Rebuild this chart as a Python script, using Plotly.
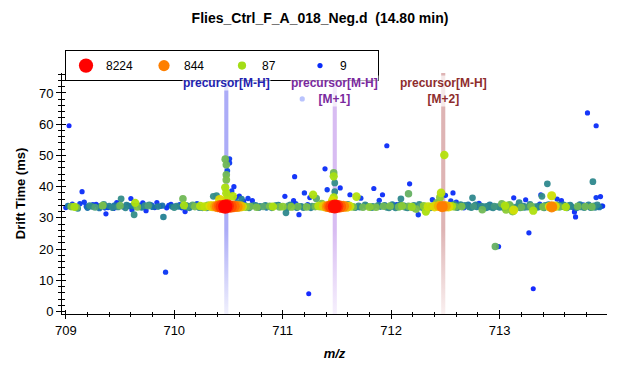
import numpy as np
import plotly.graph_objects as go
from plotly.colors import sample_colorscale

# ---------------- data ----------------
mz = [
    709.00, 709.03, 709.05, 709.08, 709.10, 709.13, 709.15, 709.17, 709.19, 709.22, 709.25, 709.27,
    709.30, 709.32, 709.34, 709.36, 709.37, 709.39, 709.43, 709.45, 709.47, 709.50, 709.51,
    709.53, 709.56, 709.60, 709.61, 709.63, 709.64, 709.66, 709.68, 709.71, 709.74, 709.76, 709.77,
    709.80, 709.82, 709.84, 709.87, 709.90, 709.92, 709.93, 709.95, 709.98,
    710.02, 710.05, 710.08, 710.09, 710.10, 710.12, 710.14, 710.17, 710.19, 710.21, 710.24, 710.26,
    710.28, 710.31, 710.33, 710.35, 710.36, 710.38, 710.40, 710.42, 710.44, 710.47, 710.49,
    710.42, 710.48, 710.48, 710.47, 710.48, 710.48, 710.49, 710.48, 710.47, 710.51, 710.51, 710.39,
    710.53, 710.55, 710.54, 710.57, 710.60, 710.62, 710.64, 710.68, 710.72,
    710.52, 710.55, 710.58, 710.61, 710.63, 710.66, 710.70, 710.73, 710.76, 710.79, 710.82, 710.85,
    710.88, 710.91, 710.94, 710.97,
    711.00, 711.02, 711.03, 711.05, 711.08, 711.11, 711.10, 711.12, 711.14, 711.15, 711.17, 711.18,
    711.20, 711.22, 711.24, 711.25, 711.27, 711.28, 711.30, 711.31, 711.33, 711.35, 711.38, 711.39,
    711.41, 711.41, 711.43, 711.45, 711.48, 711.50,
    711.47, 711.47, 711.48, 711.48, 711.47, 711.46,
    711.53, 711.53, 711.56, 711.59, 711.62, 711.62, 711.65, 711.68, 711.70, 711.72, 711.74, 711.77,
    711.80, 711.84, 711.83, 711.86, 711.89, 711.90, 711.92, 711.93, 711.96, 711.96, 711.99,
    712.02, 712.05, 712.07, 712.09, 712.10, 712.13, 712.16, 712.17, 712.16, 712.19, 712.21, 712.23,
    712.25, 712.27, 712.30, 712.32, 712.34, 712.37, 712.38, 712.40, 712.42, 712.44, 712.46, 712.45,
    712.47, 712.49, 712.50, 712.50,
    712.53, 712.55, 712.57, 712.56, 712.59, 712.60, 712.62, 712.65, 712.67, 712.69, 712.72, 712.75,
    712.76, 712.79, 712.81, 712.84, 712.86, 712.89, 712.92, 712.95, 712.96, 712.99, 712.98,
    713.02, 713.05, 713.06, 713.08, 713.10, 713.12, 713.13, 713.13, 713.16, 713.18, 713.20, 713.22,
    713.24, 713.26, 713.27, 713.29, 713.31, 713.31, 713.33, 713.36, 713.38, 713.39, 713.40, 713.42,
    713.44, 713.46, 713.48, 713.48, 713.51, 713.53, 713.55, 713.57, 713.58, 713.61, 713.63, 713.66,
    713.69, 713.70, 713.68, 713.72, 713.75, 713.77, 713.79, 713.81, 713.83, 713.86, 713.85, 713.87,
    713.89, 713.89, 713.91, 713.93, 713.94,
]
drift = [
    33.3, 59.5, 33.6, 33.5, 33.4, 34.5, 38.4, 35.0, 33.6, 33.9, 34.2, 33.4,
    33.8, 33.7, 33.9, 33.2, 31.3, 33.3, 33.3, 34.0, 34.9, 33.9, 36.1,
    33.5, 34.1, 36.2, 32.6, 31.0, 34.8, 33.5, 34.0, 34.8, 32.3, 33.8, 34.2,
    33.5, 33.3, 34.9, 33.7, 30.3, 12.6, 33.2, 34.0, 33.6,
    33.8, 34.2, 36.1, 34.0, 32.0, 33.5, 33.2, 34.1, 33.6, 34.5, 33.8, 33.3,
    33.6, 34.0, 33.8, 33.7, 36.9, 33.7, 33.6, 33.8, 33.6, 33.6, 33.8,
    35.8, 35.7, 37.9, 39.7, 42.2, 43.8, 45.1, 47.0, 48.8, 48.9, 47.6, 37.1,
    38.6, 40.0, 36.9, 36.5, 37.0, 36.0, 35.4, 36.2, 35.5,
    33.6, 33.7, 33.6, 33.7, 33.6, 33.5, 33.6, 33.9, 33.4, 33.7, 33.6, 33.3,
    33.7, 33.6, 34.0, 33.5,
    33.6, 36.9, 31.6, 33.8, 33.5, 43.2, 35.5, 34.5, 33.6, 31.0, 33.7, 68.1,
    38.0, 33.5, 5.7, 36.5, 33.7, 37.4, 33.6, 36.2, 33.8, 33.6, 33.7, 45.7,
    39.0, 33.6, 33.7, 33.6, 33.6, 33.7,
    44.4, 43.3, 41.2, 38.4, 36.5, 35.5,
    39.6, 33.6, 33.7, 33.6, 37.4, 33.7, 33.5, 36.8, 33.8, 36.3, 33.4, 33.9,
    33.5, 39.4, 33.7, 33.4, 35.6, 33.6, 37.4, 33.7, 53.1, 33.4, 33.8,
    33.6, 34.2, 33.5, 36.1, 33.8, 33.4, 37.7, 40.9, 33.7, 33.5, 34.0, 32.8,
    31.0, 33.6, 33.8, 32.0, 33.6, 33.7, 35.8, 33.6, 34.8, 33.8, 38.0, 36.5,
    33.6, 50.1, 33.7, 37.2,
    33.6, 35.4, 38.0, 33.7, 33.5, 35.0, 33.8, 33.6, 33.2, 33.8, 33.5, 36.4,
    33.7, 33.5, 34.6, 32.6, 33.6, 33.8, 33.4, 33.7, 20.8, 20.8, 33.6,
    34.5, 33.9, 32.6, 33.5, 33.8, 32.0, 36.4, 32.5, 33.6, 34.9, 33.4, 33.8,
    35.8, 33.5, 25.2, 33.7, 32.3, 7.3, 33.6, 33.8, 37.4, 36.9, 33.5, 34.0,
    40.9, 33.6, 37.1, 33.5, 33.7, 36.0, 33.5, 35.5, 33.6, 33.5, 33.8, 33.6,
    31.9, 30.3, 33.3, 33.7, 33.5, 34.1, 33.6, 63.6, 33.7, 41.6, 33.5, 33.8,
    59.5, 36.5, 33.6, 36.8, 33.7,
]
intensity = [
    9, 8, 60, 90, 55, 10, 9, 10, 12, 30, 10, 40,
    9, 25, 60, 12, 9, 10, 28, 20, 9, 55, 30,
    10, 25, 9, 10, 30, 100, 60, 12, 9, 9, 40, 28,
    20, 9, 9, 10, 25, 10, 9, 10, 22,
    28, 12, 55, 90, 9, 35, 25, 45, 60, 12, 110, 40,
    130, 60, 200, 300, 30, 500, 900, 1500, 3000, 8224, 4000,
    250, 120, 100, 95, 60, 55, 12, 55, 55, 10, 10, 30,
    10, 9, 110, 10, 9, 25, 9, 10, 9,
    2000, 1200, 700, 400, 150, 70, 55, 30, 60, 25, 45, 20,
    60, 100, 30, 55,
    70, 9, 28, 40, 65, 9, 9, 10, 55, 9, 25, 9,
    10, 60, 8, 9, 35, 100, 55, 45, 120, 70, 300, 9,
    10, 600, 1200, 2500, 7000, 3500,
    55, 90, 30, 28, 100, 200,
    9, 1500, 800, 400, 9, 150, 60, 110, 30, 10, 55, 25,
    70, 9, 30, 60, 10, 25, 9, 55, 9, 30, 60,
    25, 10, 55, 28, 70, 30, 50, 9, 55, 80, 28, 60,
    10, 40, 70, 95, 150, 60, 10, 250, 60, 400, 120, 70,
    900, 110, 500, 10,
    250, 10, 9, 100, 55, 10, 30, 60, 10, 12, 28, 28,
    35, 25, 10, 55, 30, 28, 25, 35, 50, 9, 30,
    55, 100, 70, 60, 45, 60, 9, 180, 30, 28, 55, 28,
    9, 35, 9, 55, 100, 8, 30, 25, 9, 30, 60, 30,
    28, 200, 170, 800, 250, 10, 55, 9, 30, 100, 30, 28,
    9, 9, 10, 55, 30, 12, 55, 9, 28, 28, 55, 30,
    9, 10, 12, 9, 10,
]

# extra low-intensity points that make up the dense band near 33-35 ms
band_mz = [
    709.02, 709.06, 709.11, 709.20, 709.24, 709.28, 709.31, 709.35, 709.40, 709.44, 709.48, 709.55,
    709.58, 709.62, 709.70, 709.73, 709.79, 709.85, 709.89, 709.97, 710.00, 710.04, 710.07, 710.11,
    710.15, 710.23, 710.30, 710.58, 710.65, 710.69, 710.75, 710.78, 710.84, 710.90, 710.96, 711.04,
    711.07, 711.13, 711.19, 711.23, 711.26, 711.36, 711.60, 711.67, 711.71, 711.76, 711.82, 711.88,
    711.94, 711.98, 712.01, 712.04, 712.08, 712.12, 712.15, 712.20, 712.26, 712.29, 712.36, 712.58,
    712.61, 712.64, 712.68, 712.71, 712.74, 712.78, 712.83, 712.88, 712.91, 712.94, 713.00, 713.04,
    713.09, 713.15, 713.19, 713.23, 713.28, 713.35, 713.37, 713.41, 713.45, 713.50, 713.54, 713.59,
    713.62, 713.65, 713.71, 713.74, 713.78, 713.82, 713.84, 713.88, 713.90, 713.92, 713.95,
]
band_drift = [
    33.8, 34.4, 33.0, 33.2, 33.7, 34.3, 33.1, 34.3, 33.8, 33.0, 33.5, 33.2,
    33.8, 33.9, 33.3, 33.9, 34.1, 33.6, 33.9, 34.3, 33.3, 33.6, 33.2, 34.0,
    33.8, 33.3, 33.2, 34.8, 34.0, 33.2, 34.1, 33.3, 34.0, 33.2, 34.1, 33.2,
    34.2, 33.2, 33.3, 34.2, 33.2, 34.6, 34.3, 33.3, 33.4, 34.2, 33.2, 34.0,
    34.1, 33.2, 34.3, 33.2, 34.2, 33.9, 33.2, 33.2, 34.3, 33.2, 33.2, 34.3,
    33.3, 34.3, 34.0, 34.2, 33.3, 34.2, 33.8, 33.2, 34.2, 33.2, 33.3, 33.2,
    34.2, 33.3, 33.2, 33.3, 34.3, 33.3, 34.4, 33.2, 34.3, 33.2, 34.2, 34.2,
    33.2, 34.1, 33.2, 34.3, 33.3, 34.2, 33.2, 33.3, 34.2, 33.4, 33.8,
]
band_intensity = [
    20, 9, 25, 20, 28, 9, 20, 30, 25, 9, 30, 28,
    20, 25, 22, 30, 12, 25, 20, 9, 30, 22, 10, 28,
    20, 28, 35, 30, 25, 28, 20, 28, 25, 25, 22, 28,
    25, 22, 28, 10, 25, 60, 30, 28, 25, 28, 22, 25,
    20, 28, 22, 28, 25, 22, 28, 25, 28, 25, 28, 30,
    28, 25, 28, 20, 28, 25, 28, 25, 22, 28, 25, 28,
    55, 25, 28, 25, 28, 25, 10, 28, 25, 30, 28, 25,
    28, 25, 28, 22, 28, 25, 22, 25, 28, 20, 9,
]

legend_values = [8224, 844, 87, 9]
precursor_mz = [710.48, 711.48, 712.48]
precursor_labels = ["precursor[M-H]", "precursor[M-H]<br>[M+1]", "precursor[M-H]<br>[M+2]"]

title_text = "Flies_Ctrl_F_A_018_Neg.d\u00a0 (14.80 min)"

# ---------------- styling ----------------
CMIN, CMAX = 0.9, 3.92
cscale = [
    [0.0, "#0a1eff"], [0.07, "#0650e6"], [0.15, "#1a7a9a"], [0.25, "#5aa870"],
    [0.35, "#a8e010"], [0.48, "#e0e000"], [0.68, "#ff7a00"], [1.0, "#ff0000"],
]


def colour_of(v):
    t = (np.log10(v) - CMIN) / (CMAX - CMIN)
    t = float(min(max(t, 0.0), 1.0))
    return sample_colorscale(cscale, [t])[0]


def size_of(v):
    return 2.3 + 3.05 * np.log10(v)


all_mz = mz + band_mz
all_drift = drift + band_drift
all_int = intensity + band_intensity
order = np.argsort(all_int, kind="stable")
xs = [all_mz[i] for i in order]
ys = [all_drift[i] for i in order]
vs = [all_int[i] for i in order]

X0, X1 = 708.965, 713.99
Y0, Y1 = -0.8, 76.4

line_strong = ["rgb(172,172,247)", "rgb(216,188,242)", "rgb(222,180,180)"]
line_light = ["rgb(240,240,253)", "rgb(246,240,253)", "rgb(250,240,240)"]
ann_colours = ["#2323b0", "#7a2a9e", "#8e2d2d"]

fig = go.Figure()

half_w = 0.019
for m, cs, cl in zip(precursor_mz, line_strong, line_light):
    fig.add_trace(go.Scatter(
        x=[m - half_w, m + half_w, m + half_w, m - half_w, m - half_w],
        y=[Y0, Y0, Y1, Y1, Y0],
        mode="lines", line=dict(width=0), fill="toself",
        fillgradient=dict(type="vertical", start=Y0, stop=Y1,
                          colorscale=[[0, cl], [0.35, cs], [1, cs]]),
        hoverinfo="skip", showlegend=False,
    ))

fig.add_trace(go.Scatter(
    x=xs, y=ys, mode="markers",
    marker=dict(color=[colour_of(v) for v in vs], size=[size_of(v) for v in vs],
                line=dict(width=0), opacity=0.95),
    showlegend=False,
))

for v in legend_values:
    fig.add_trace(go.Scatter(
        x=[None], y=[None], mode="markers", name=str(v),
        marker=dict(color=colour_of(v), size=size_of(v), line=dict(width=0)),
    ))

# dummy trace for the inner-tick overlay axes
fig.add_trace(go.Scatter(x=[None], y=[None], xaxis="x2", yaxis="y2",
                         showlegend=False, hoverinfo="skip"))

for m, lab, c in zip(precursor_mz, precursor_labels, ann_colours):
    fig.add_annotation(
        x=m, xref="x", y=0.99, yref="paper", yanchor="top", xanchor="center",
        text="<b>" + lab + "</b>", showarrow=False,
        font=dict(family="Arial, Liberation Sans", size=12, color=c),
        bgcolor="rgba(255,255,255,0.7)", borderpad=0,
    )

font_main = "Arial, Liberation Sans, sans-serif"
axis_common = dict(showgrid=False, zeroline=False, showline=True, linecolor="black",
                   linewidth=1, tickcolor="black", tickwidth=1)

# the page body adds an 8px offset, so the figure is 8px smaller in each direction
W, H = 622, 367

fig.update_layout(
    width=W, height=H,
    margin=dict(l=54, r=23, t=65, b=61, autoexpand=False),
    paper_bgcolor="white", plot_bgcolor="white",
    font=dict(family=font_main, color="black", size=13),
    title=dict(text="<b>" + title_text + "</b>", x=312 / W, xanchor="center",
               y=1 - 10 / H, yanchor="middle", font=dict(size=14, family=font_main)),
    showlegend=True,
    legend=dict(orientation="h", x=0.0055, y=1.095, xanchor="left", yanchor="top",
                bordercolor="black", borderwidth=1, bgcolor="white",
                font=dict(size=12), entrywidth=33, entrywidthmode="pixels",
                itemsizing="trace", traceorder="normal"),
    xaxis=dict(range=[X0, X1], tick0=709, dtick=1, ticks="outside", ticklen=4,
               minor=dict(ticks="outside", ticklen=2, dtick=0.2, tick0=709, tickcolor="black"),
               title=dict(text="<b><i>m/z</i></b>", standoff=12, font=dict(size=13)),
               tickfont=dict(size=13), **axis_common),
    yaxis=dict(range=[Y0, Y1], tick0=0, dtick=10, ticks="outside", ticklen=5,
               minor=dict(ticks="outside", ticklen=3, dtick=2, tick0=0, tickcolor="black"),
               title=dict(text="<b>Drift Time (ms)</b>", standoff=10, font=dict(size=13)),
               tickfont=dict(size=13), **axis_common),
    xaxis2=dict(range=[X0, X1], overlaying="x", anchor="y2", side="bottom",
                tick0=709, dtick=1, ticks="inside", ticklen=4, showticklabels=False,
                minor=dict(ticks="inside", ticklen=2, dtick=0.2, tick0=709, tickcolor="black"),
                showgrid=False, zeroline=False, showline=False, tickcolor="black"),
    yaxis2=dict(range=[Y0, Y1], overlaying="y", anchor="x2", side="left",
                tick0=0, dtick=10, ticks="inside", ticklen=4, showticklabels=False,
                minor=dict(ticks="inside", ticklen=3, dtick=2, tick0=0, tickcolor="black"),
                showgrid=False, zeroline=False, showline=False, tickcolor="black"),
)

fig.write_html("out.html")
